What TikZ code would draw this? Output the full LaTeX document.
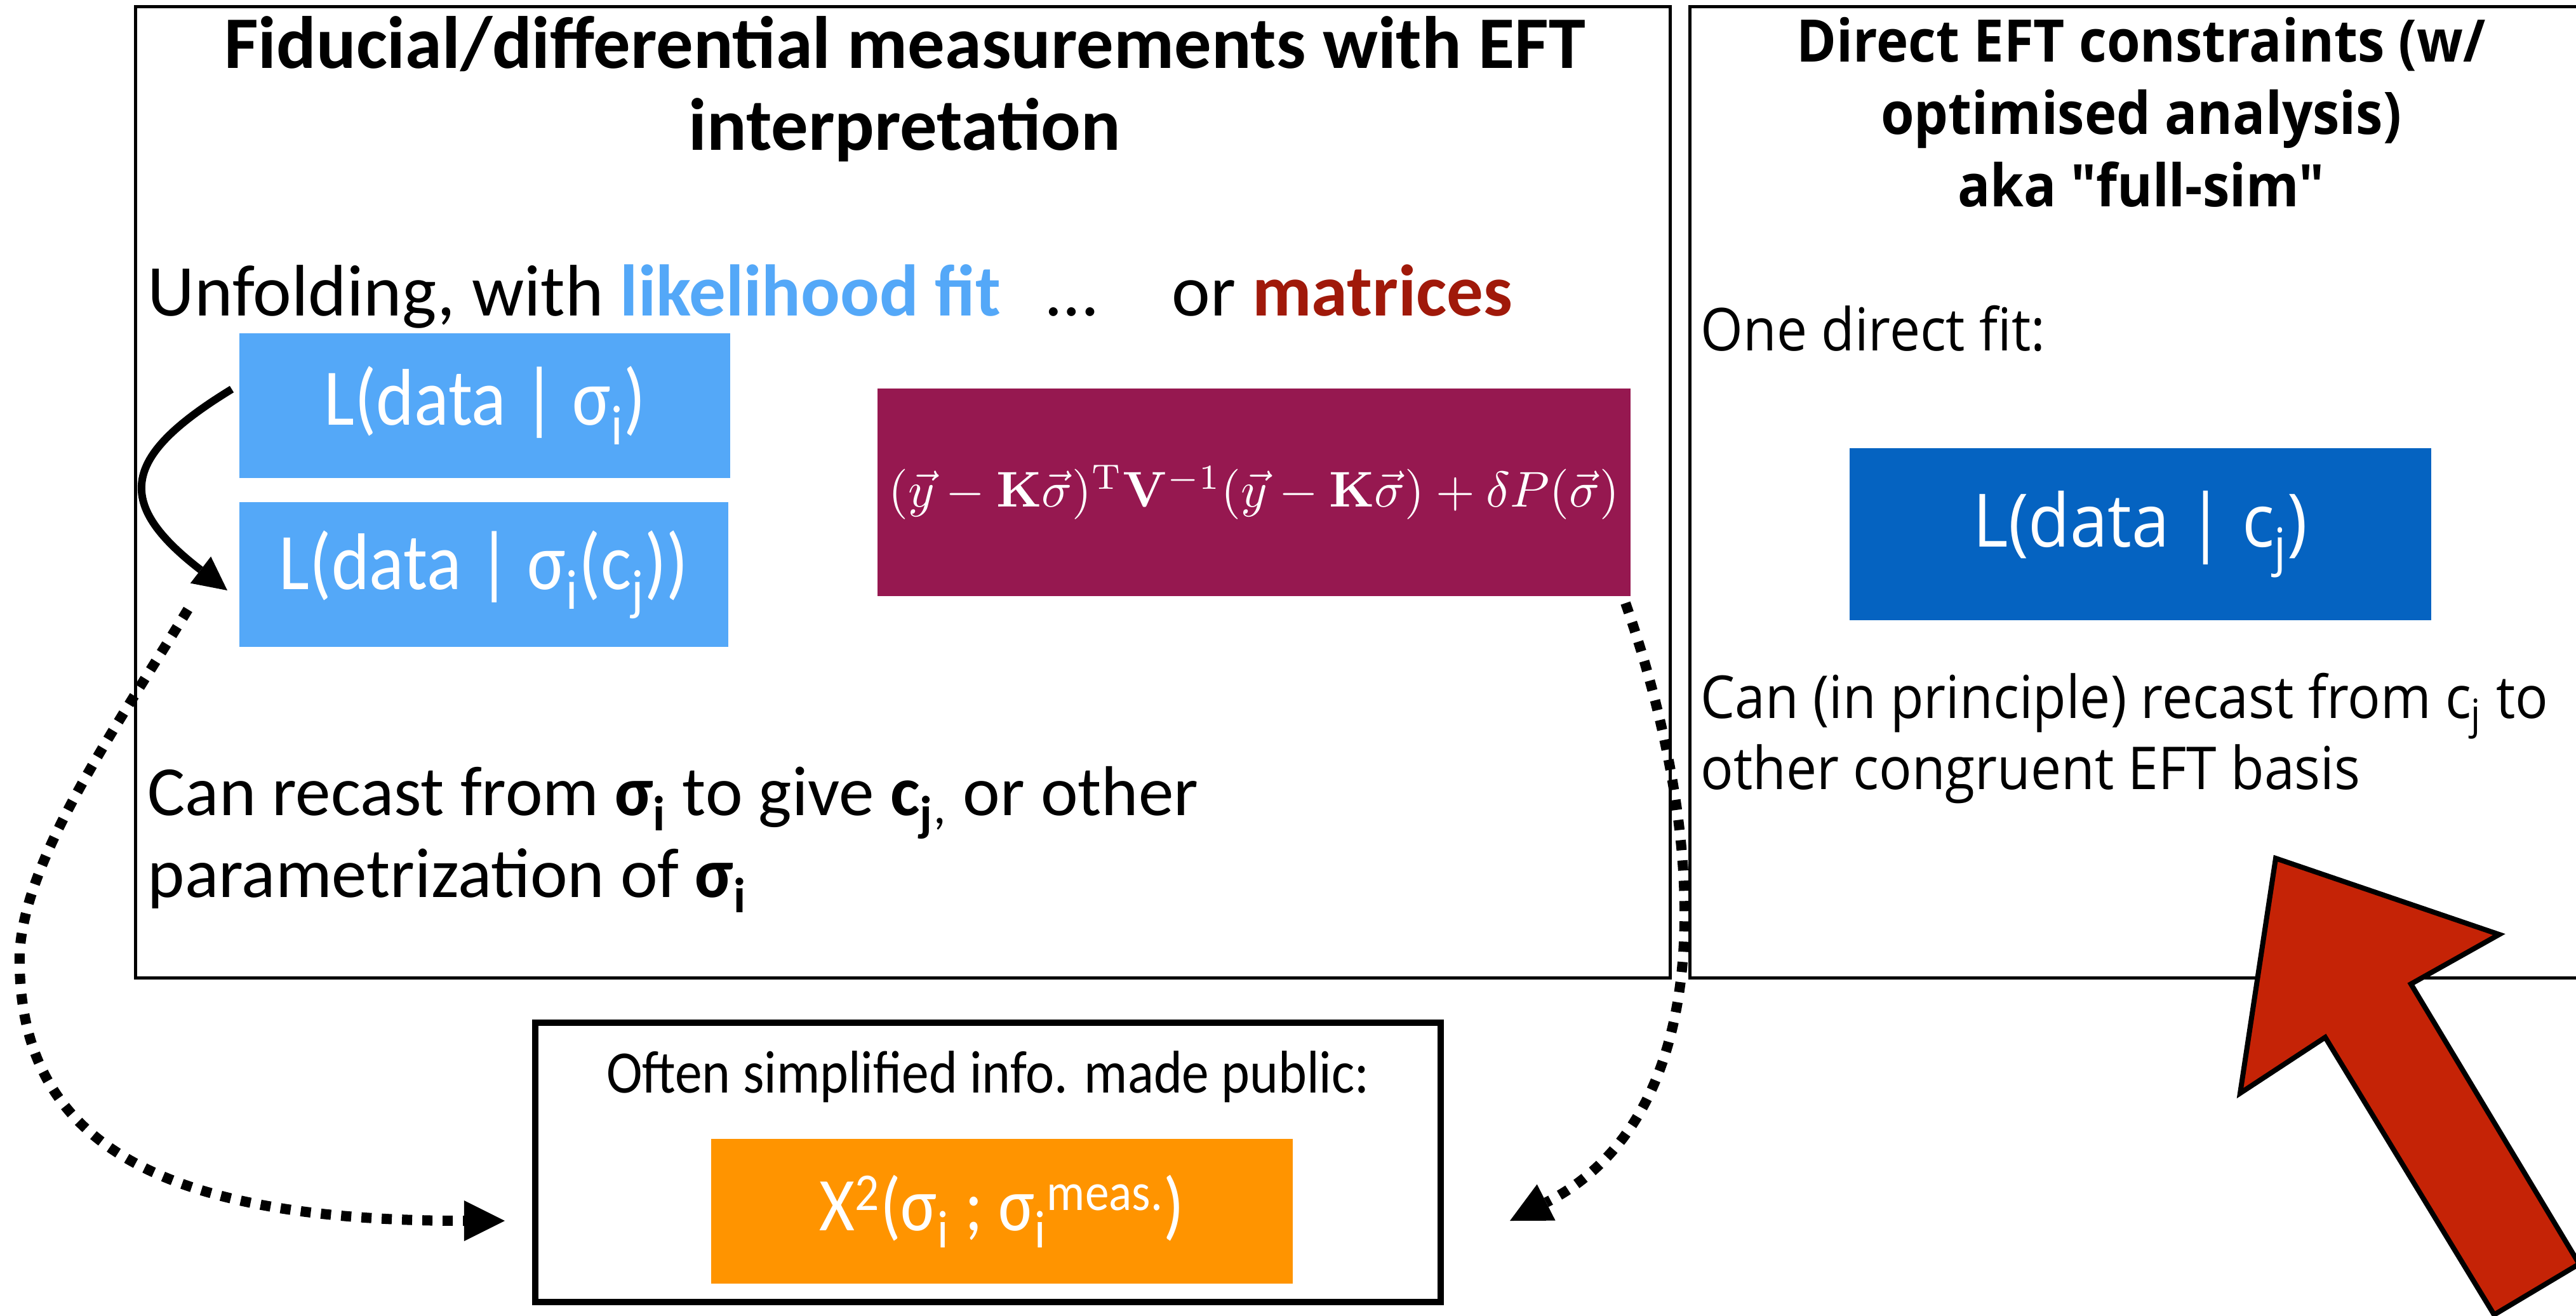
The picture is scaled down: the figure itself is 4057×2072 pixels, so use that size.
\documentclass[tikz,border=0pt]{standalone}
\usepackage[no-math]{fontspec}
\usepackage{graphicx}
\setmainfont{Carlito}
\newfontfamily\osans[FakeStretch=0.92]{Open Sans}
\newfontfamily\cfont[FakeStretch=0.9]{Carlito}
\usetikzlibrary{arrows.meta}
\definecolor{lblue}{RGB}{84,168,248}
\definecolor{dblue}{RGB}{5,99,193}
\definecolor{magbox}{RGB}{150,24,80}
\definecolor{orbox}{RGB}{255,148,0}
\definecolor{mred}{RGB}{160,25,10}
\definecolor{arrred}{RGB}{197,35,6}
\begin{document}
\begin{tikzpicture}[x=0.01cm,y=-0.01cm,
  panel/.style={draw=black, line width=0.05cm, inner sep=0pt},
  fillbox/.style={inner sep=0pt, text=white},
  ltitle/.style={inner sep=0pt, font=\bfseries\fontsize{33.2}{40}\selectfont},
  lbody/.style={inner sep=0pt, font=\fontsize{32.7}{39}\selectfont},
  lbodyb/.style={inner sep=0pt, font=\fontsize{31.6}{39}\selectfont},
  rtitle/.style={inner sep=0pt, font=\osans\bfseries\fontsize{26.3}{30}\selectfont},
  rbody/.style={inner sep=0pt, font=\osans\fontsize{26.5}{30}\selectfont},
  boxtxt/.style={font=\cfont\fontsize{36}{40}\selectfont},
  dotconn/.style={line width=0.16cm, dash pattern=on 0.16cm off 0.16cm, line cap=butt,
    -{Triangle[length=0.64cm,width=0.64cm,line width=0pt]}},
  solidconn/.style={line width=0.12cm, -{Triangle[length=0.53cm,width=0.53cm,line width=0pt]}}
]
\useasboundingbox (0,0) rectangle (4057,2072);
\clip (0,0) rectangle (4057,2072);
\fill[white] (0,0) rectangle (4057,2072);

% panels
\node[panel, minimum width=24.155cm, minimum height=15.295cm] (lp) at (1422.25,775.25) {};
\node[panel, minimum width=14.6cm, minimum height=15.295cm] (rp) at (3392,775.25) {};

% left panel texts
\node[ltitle, anchor=base] (lt1) at (1425,107) {Fiducial/differential measurements with EFT};
\node[ltitle, anchor=base] (lt2) at (1425,236) {interpretation};
\node[lbody, anchor=base west] (unf) at (232,497) {Unfolding, with \textcolor{lblue}{\textbf{likelihood fit}}};
\node[lbody, anchor=base west] (dots) at (1648,497) {…};
\node[lbody, anchor=base west] (ormat) at (1845,497) {or \textcolor{mred}{\textbf{matrices}}};

\node[fillbox, boxtxt, fill=lblue, minimum width=7.73cm, minimum height=2.28cm] (b1) at (763.5,639) {L(data | σ\textsubscript{i})};
\node[fillbox, boxtxt, fill=lblue, minimum width=7.70cm, minimum height=2.28cm] (b2) at (762,905) {L(data | σ\textsubscript{i}(c\textsubscript{j}))};
\node[fillbox, fill=magbox, minimum width=11.86cm, minimum height=3.27cm] (mat) at (1975,775.5)
  {\resizebox{11.5cm}{!}{$(\vec{y}-\mathbf{K}\vec{\sigma})^{\mathrm{T}}\mathbf{V}^{-1}(\vec{y}-\mathbf{K}\vec{\sigma})+\delta P(\vec{\sigma})$}};

\node[lbodyb, anchor=base west] (rc1) at (232,1284) {Can recast from \textbf{σ\textsubscript{i}} to give \textbf{c\textsubscript{j}}\textsubscript{,} or other};
\node[lbodyb, anchor=base west] (rc2) at (232,1413) {parametrization of \textbf{σ\textsubscript{i}}};

% right panel texts
\node[rtitle, anchor=base] (rt1) at (3372,97) {Direct EFT constraints (w/};
\node[rtitle, anchor=base] (rt2) at (3372,211) {optimised analysis)};
\node[rtitle, anchor=base] (rt3) at (3372,325) {aka "full-sim"};
\node[rbody, anchor=base west] (odf) at (2678,552) {One direct fit:};
\node[fillbox, fill=dblue, minimum width=9.16cm, minimum height=2.71cm, font=\osans\fontsize{33}{36}\selectfont] (dfit) at (3371,841.5) {L(data | c\textsubscript{j})};
\node[rbody, anchor=base west] (rr1) at (2678,1131) {Can (in principle) recast from c\textsubscript{j} to};
\node[rbody, anchor=base west] (rr2) at (2678,1243) {other congruent EFT basis};

% bottom box
\node[draw, line width=0.1cm, minimum width=14.26cm, minimum height=4.40cm] (pub) at (1556,1831) {};
\node[anchor=base, inner sep=0pt, font=\cfont\fontsize{27}{30}\selectfont] (pubt) at (1556,1721) {Often simplified info. made public:};
\node[fillbox, fill=orbox, minimum width=9.16cm, minimum height=2.28cm, font=\cfont\fontsize{34}{40}\selectfont] (chi) at (1578,1908) {X\textsuperscript{2}(σ\textsubscript{i} ; σ\textsubscript{i}\textsuperscript{meas.})};

% connector end points
\coordinate (sas) at (365,613);
\coordinate (sae) at (358,930);
\coordinate (ls) at (296,960);
\coordinate (le) at (795,1923);
\coordinate (rs) at (2560,950);
\coordinate (re) at (2378,1923);

\draw[solidconn] (sas) .. controls (195,717) and (176,790) .. (sae);
\draw[dotconn] (ls) .. controls (180,1150) and (40,1350) .. (31,1500) .. controls (25,1800) and (250,1923) .. (le);
\draw[dotconn] (rs) .. controls (2700,1350) and (2700,1760) .. (re);

% big red arrow
\draw[line width=0.08cm, fill=arrred, line join=miter] (3584,1352) -- (3936,1472) -- (3797,1550) -- (4062,1991) -- (3928,2071) -- (3662,1634) -- (3528,1722) -- cycle;
\end{tikzpicture}
\end{document}
